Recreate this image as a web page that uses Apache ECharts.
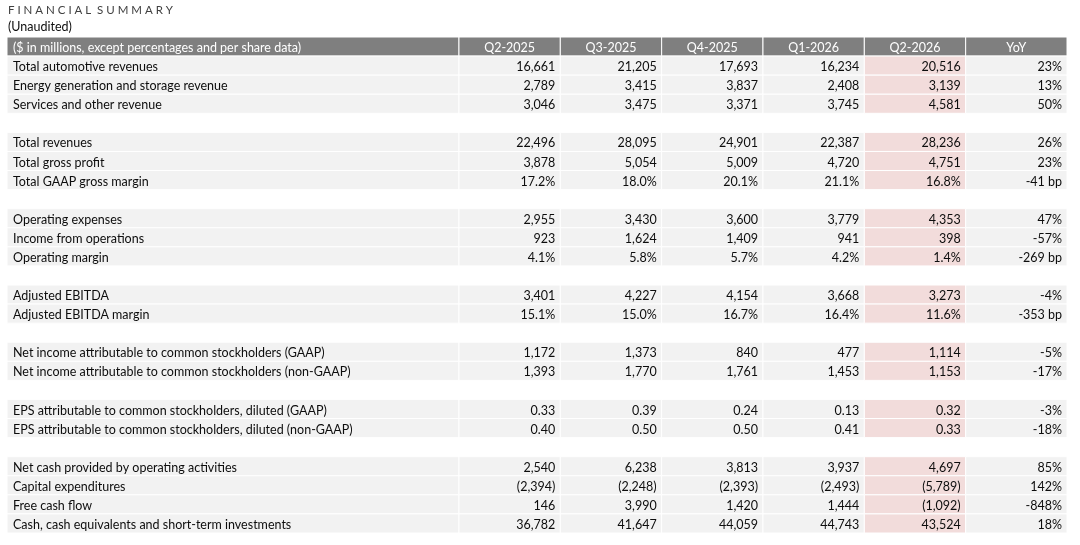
<!DOCTYPE html>
<html>
<head>
<meta charset="utf-8">
<title>Financial Summary</title>
<script src="https://cdn.jsdelivr.net/npm/echarts@6/dist/echarts.min.js"></script>
<style>
  html,body{margin:0;padding:0;background:#fff;}
  #main{width:1080px;height:545px;}
</style>
</head>
<body>
<div id="main"></div>
<script>
// column headers
var headLabel = '($ in millions, except percentages and per share data)';
var quarters = ['Q2-2025', 'Q3-2025', 'Q4-2025', 'Q1-2026', 'Q2-2026'];
var yoyHead = 'YoY';

// row labels and how they are printed
var rowLabels = [
  'Total automotive revenues',
  'Energy generation and storage revenue',
  'Services and other revenue',
  'Total revenues',
  'Total gross profit',
  'Total GAAP gross margin',
  'Operating expenses',
  'Income from operations',
  'Operating margin',
  'Adjusted EBITDA',
  'Adjusted EBITDA margin',
  'Net income attributable to common stockholders (GAAP)',
  'Net income attributable to common stockholders (non-GAAP)',
  'EPS attributable to common stockholders, diluted (GAAP)',
  'EPS attributable to common stockholders, diluted (non-GAAP)',
  'Net cash provided by operating activities',
  'Capital expenditures',
  'Free cash flow',
  'Cash, cash equivalents and short-term investments'
];
var rowType = ['num','num','num','num','num','pct','num','num','pct','num','pct','num','num','eps','eps','num','num','num','num'];
// rows per block, a blank row follows each block
var groups = [3, 3, 3, 2, 2, 2, 4];

var q2_2025 = [16661, 2789, 3046, 22496, 3878, 17.2, 2955, 923, 4.1, 3401, 15.1, 1172, 1393, 0.33, 0.40, 2540, -2394, 146, 36782];
var q3_2025 = [21205, 3415, 3475, 28095, 5054, 18.0, 3430, 1624, 5.8, 4227, 15.0, 1373, 1770, 0.39, 0.50, 6238, -2248, 3990, 41647];
var q4_2025 = [17693, 3837, 3371, 24901, 5009, 20.1, 3600, 1409, 5.7, 4154, 16.7, 840, 1761, 0.24, 0.50, 3813, -2393, 1420, 44059];
var q1_2026 = [16234, 2408, 3745, 22387, 4720, 21.1, 3779, 941, 4.2, 3668, 16.4, 477, 1453, 0.13, 0.41, 3937, -2493, 1444, 44743];
var q2_2026 = [20516, 3139, 4581, 28236, 4751, 16.8, 4353, 398, 1.4, 3273, 11.6, 1114, 1153, 0.32, 0.33, 4697, -5789, -1092, 43524];
var yoy = [23, 13, 50, 26, 23, -41, 47, -57, -269, -4, -353, -5, -17, -3, -18, 85, 142, -848, 18];
var yoyUnit = ['%','%','%','%','%',' bp','%','%',' bp','%',' bp','%','%','%','%','%','%','%','%'];

var quarterData = [q2_2025, q3_2025, q4_2025, q1_2026, q2_2026];

function fmt(v, type) {
  if (type == 'pct') return v.toFixed(1) + '%';
  if (type == 'eps') return v.toFixed(2);
  var s = Math.abs(v).toLocaleString('en-US');
  return v < 0 ? '(' + s + ')' : s;
}

// x units: label column is wider, every other column is 1
var labelSpan = 4.46;
function colStart(c) { return c == 0 ? 0 : labelSpan + c - 1; }
function colEnd(c) { return c == 0 ? labelSpan : labelSpan + c; }

// build the cells
var cells = [];
var totalSlots = 1;
groups.forEach(function (g) { totalSlots += g + 1; });
totalSlots -= 1;

function addCell(c, slot, text, kind) {
  cells.push({ value: [colStart(c), colEnd(c), slot], text: text, kind: kind, col: c });
}

addCell(0, 0, headLabel, 'head');
quarters.forEach(function (q, i) { addCell(i + 1, 0, q, 'head'); });
addCell(6, 0, yoyHead, 'head');

var slot = 1, r = 0;
groups.forEach(function (g) {
  for (var k = 0; k < g; k++) {
    addCell(0, slot, rowLabels[r], 'label');
    for (var q = 0; q < quarterData.length; q++) {
      addCell(q + 1, slot, fmt(quarterData[q][r], rowType[r]), q == 4 ? 'hl' : 'num');
    }
    addCell(6, slot, yoy[r] + yoyUnit[r], 'num');
    slot++; r++;
  }
  slot++;
});

var font = 'Lato';
var fontSize = 12.5;

function renderCell(params, api) {
  var cell = cells[params.dataIndex];
  var p0 = api.coord([api.value(0), api.value(2)]);
  var p1 = api.coord([api.value(1), api.value(2) + 1]);
  var fill = '#f2f2f2', color = '#0d0d0d';
  if (cell.kind == 'head') { fill = '#7f7f7f'; color = '#ffffff'; }
  if (cell.kind == 'hl') fill = '#f2dcdb';

  var tx, align;
  if (cell.col == 0) { tx = p0[0] + 6; align = 'left'; }
  else if (cell.kind == 'head') { tx = (p0[0] + p1[0]) / 2; align = 'center'; }
  else { tx = p1[0] - 5; align = 'right'; }

  return {
    type: 'group',
    children: [{
      type: 'rect',
      shape: { x: p0[0], y: p0[1], width: p1[0] - p0[0], height: p1[1] - p0[1] },
      style: { fill: fill, stroke: '#ffffff', lineWidth: 1 }
    }, {
      type: 'text',
      style: {
        text: cell.text, x: tx, y: (p0[1] + p1[1]) / 2 + 1.5,
        align: align, verticalAlign: 'middle',
        fill: color, fontSize: fontSize, fontFamily: font
      }
    }]
  };
}

var myChart = echarts.init(document.getElementById('main'));
var option = {
  animation: false,
  title: [{
    text: 'F I N A N C I A L  S U M M A R Y',
    left: 8, top: 4, padding: 0,
    textStyle: { fontSize: 11.5, fontWeight: 'normal', color: '#404040', fontFamily: font }
  }, {
    text: '(Unaudited)',
    left: 8, top: 20, padding: 0,
    textStyle: { fontSize: 12.5, fontWeight: 'normal', color: '#0d0d0d', fontFamily: font }
  }],
  grid: { left: 7, right: 13, top: 37, bottom: 12 },
  xAxis: { type: 'value', min: 0, max: labelSpan + 6, show: false },
  yAxis: { type: 'value', min: 0, max: totalSlots, inverse: true, show: false },
  series: [{
    type: 'custom',
    renderItem: renderCell,
    data: cells.map(function (c) { return c.value; }),
    silent: true
  }]
};
myChart.setOption(option);
</script>
</body>
</html>
